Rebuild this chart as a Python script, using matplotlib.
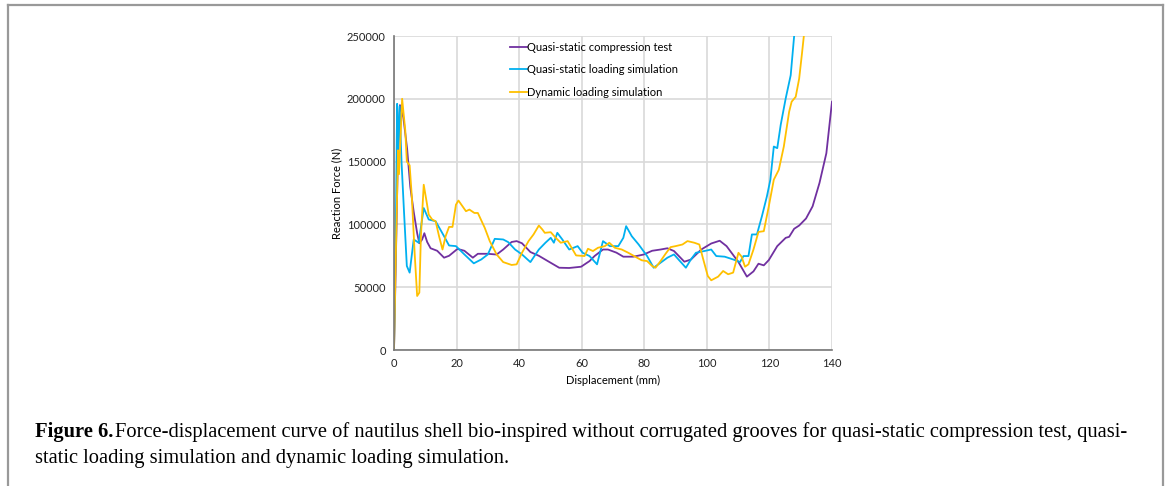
import matplotlib.pyplot as plt
from matplotlib.lines import Line2D

# displacement (mm) / reaction force (N)
test_x = [0, 0.5, 1.2, 1.9, 3.0, 4.2, 5.2, 6.3, 7.4, 8.1, 9.0, 9.7, 10.6, 11.7, 13.8, 16.0, 17.6,
          20.3, 22.5, 25.2, 26.8, 30.0, 32.8, 34.9, 37.6, 39.2, 40.9, 43.6, 46.3, 49.5, 52.8,
          56.0, 59.8, 62.5, 64.1, 66.8, 68.4, 71.1, 73.3, 76.5, 79.8, 82.5, 85.2, 87.4, 89.5,
          92.8, 94.9, 98.2, 101.4, 104.1, 106.3, 110.1, 112.8, 114.9, 116.5, 118.2, 119.8,
          122.5, 125.2, 126.3, 127.9, 129.5, 131.7, 133.8, 136.0, 138.2, 140.0]
test_y = [0, 60000, 150000, 195000, 185000, 160000, 130000, 110000, 93000, 85000, 88000, 93000,
          86000, 81000, 79000, 73500, 75000, 80500, 79000, 73500, 76600, 76600, 76000, 80000,
          86000, 86700, 85000, 78000, 75000, 70300, 65500, 65300, 66300, 70800, 74800, 80000,
          80000, 77500, 74300, 74300, 76000, 79000, 80000, 81000, 78800, 70300, 72000, 80000,
          84800, 87000, 82700, 70000, 58400, 62600, 68700, 67400, 71600, 82700, 89300, 90100,
          96500, 99100, 104700, 114400, 133000, 156700, 197700]

qs_sim_x = [0, 0.6, 1.0, 1.4, 1.8, 2.4, 3.2, 4.1, 5.0, 6.3, 7.9, 9.5, 11.1, 13.3, 16.0, 17.6,
            19.8, 22.5, 25.5, 27.9, 30.0, 32.2, 34.9, 36.5, 38.7, 40.9, 43.6, 46.3, 48.4, 50.1,
            51.1, 52.2, 53.8, 56.0, 58.7, 60.3, 62.5, 64.9, 66.8, 69.0, 71.7, 73.3, 74.2, 76.0,
            78.2, 80.9, 83.0, 85.2, 87.4, 89.5, 91.1, 93.3, 94.9, 96.5, 99.2, 101.4, 103.0,
            105.7, 108.4, 110.6, 111.7, 113.3, 114.4, 116.0, 117.6, 119.2, 120.3, 121.4, 122.5,
            123.6, 125.2, 126.8, 127.9, 128.5]
qs_sim_y = [0, 100000, 196000, 160000, 194000, 150000, 110000, 66900, 61600, 88000, 85400,
            113000, 103900, 102500, 90600, 83200, 82700, 76100, 69000, 72100, 76100, 88500,
            88000, 85900, 80000, 76100, 70000, 80000, 85400, 89300, 85400, 93300, 88000, 80000,
            82700, 77400, 74800, 68200, 86700, 82700, 82700, 89300, 98600, 90600, 84000, 74800,
            65500, 69500, 73500, 76100, 71600, 65500, 72100, 77400, 78800, 80000, 74800, 74300,
            72100, 70000, 74800, 74800, 92000, 92000, 106500, 122400, 135600, 162000, 160700,
            179200, 200300, 218800, 250000, 262000]

dyn_x = [0, 0.6, 1.3, 1.6, 2.6, 3.6, 4.1, 5.0, 5.7, 6.6, 7.4, 8.1, 8.6, 9.5, 10.4, 11.1, 12.2,
         13.3, 14.4, 15.5, 16.5, 17.6, 18.7, 19.8, 20.6, 21.9, 23.0, 24.1, 25.7, 26.8, 29.0,
         30.6, 32.8, 34.9, 37.6, 39.2, 40.9, 43.0, 44.6, 46.3, 47.4, 48.2, 50.1, 51.7, 53.3,
         55.5, 57.1, 58.2, 60.9, 62.0, 63.6, 65.2, 67.4, 68.8, 70.6, 72.8, 74.9, 77.1, 79.2,
         80.9, 82.5, 83.6, 85.2, 86.8, 88.4, 90.0, 92.2, 93.8, 96.0, 97.6, 98.7, 100.3, 101.4,
         103.6, 105.2, 106.8, 108.4, 110.1, 111.1, 112.2, 113.3, 114.9, 116.5, 118.2, 119.8,
         121.4, 123.0, 124.6, 126.3, 127.1, 128.4, 129.5, 130.4, 131.0, 131.3]
dyn_y = [0, 77000, 159000, 140000, 200000, 175000, 150000, 147000, 122000, 77000, 43000, 45700,
         90600, 131600, 118400, 107800, 103900, 102500, 90600, 80000, 90600, 98000, 98000,
         115700, 119000, 114400, 110500, 111800, 109100, 109100, 97300, 86700, 76100, 70000,
         67700, 68200, 77400, 86700, 92000, 99100, 96000, 93300, 93800, 89300, 85400, 86700,
         80000, 75300, 74800, 80600, 78800, 81400, 82700, 85400, 81400, 80000, 77400, 74300,
         71400, 70800, 66900, 65500, 70800, 76600, 81900, 82700, 84000, 86700, 85400, 84000,
         73500, 58900, 55500, 58400, 62900, 60300, 61600, 77400, 74300, 66300, 68200, 80000,
         94000, 94600, 114400, 135600, 143500, 162000, 189700, 197700, 201600, 216000, 236000,
         250000, 258000]

labels = ['Quasi-static compression test', 'Quasi-static loading simulation',
          'Dynamic loading simulation']
colors = ['#7030A0', '#00B0F0', '#FFC000']

x_ticks = [0, 20, 40, 60, 80, 100, 120, 140]
y_ticks = [0, 50000, 100000, 150000, 200000, 250000]

fig = plt.figure(figsize=(11.7, 4.86), dpi=100)
ax = fig.add_axes([394 / 1170, 1 - 350 / 486, 438 / 1170, 314 / 486])

for xs, ys, lab, c in zip([test_x, qs_sim_x, dyn_x], [test_y, qs_sim_y, dyn_y], labels, colors):
    ax.plot(xs, ys, color=c, lw=1.3, label=lab)

ax.set_xlim(0, 140)
ax.set_ylim(0, 250000)
ax.set_xticks(x_ticks)
ax.set_yticks(y_ticks)
ax.set_xticklabels([str(v) for v in x_ticks], fontsize=8, family='Lato')
ax.set_yticklabels([str(v) for v in y_ticks], fontsize=8, family='Lato')
ax.tick_params(length=0, pad=6, colors='#222222')
ax.grid(True, color='#d9d9d9', lw=1.2)
ax.set_axisbelow(True)
for s in ['top', 'right']:
    ax.spines[s].set_visible(False)
for s in ['left', 'bottom']:
    ax.spines[s].set_color('#777777')
    ax.spines[s].set_linewidth(1.2)
ax.set_xlabel('Displacement (mm)', fontsize=8, family='Lato', labelpad=4)
ax.set_ylabel('Reaction Force (N)', fontsize=8, family='Lato', labelpad=3)

ax.legend(loc='upper left', bbox_to_anchor=((504 - 394) / 438, 1.0), frameon=False,
          prop={'family': 'Lato', 'size': 8}, handlelength=1.6, handletextpad=0.0,
          labelspacing=1.05, borderaxespad=0.1)

# page frame
fig.add_artist(Line2D([8 / 1170, 8 / 1170], [0, 1 - 5 / 486], color='#999999', lw=1.6))
fig.add_artist(Line2D([1163 / 1170, 1163 / 1170], [0, 1 - 5 / 486], color='#999999', lw=1.6))
fig.add_artist(Line2D([8 / 1170, 1163 / 1170], [1 - 5 / 486, 1 - 5 / 486], color='#999999', lw=1.6))

# caption
cap_font = {'family': 'Liberation Serif', 'size': 14.8}
t1 = fig.text(35 / 1170, 1 - 432 / 486, 'Figure 6.', fontweight='bold', va='center', **cap_font)
fig.canvas.draw()
bb = t1.get_window_extent()
fig.text((bb.x1 + 2) / 1170, 1 - 432 / 486,
         'Force-displacement curve of nautilus shell bio-inspired without corrugated grooves '
         'for quasi-static compression test, quasi-', va='center', **cap_font)
fig.text(35 / 1170, 1 - 458 / 486,
         'static loading simulation and dynamic loading simulation.', va='center', **cap_font)

fig.savefig('out.png', dpi=100)
